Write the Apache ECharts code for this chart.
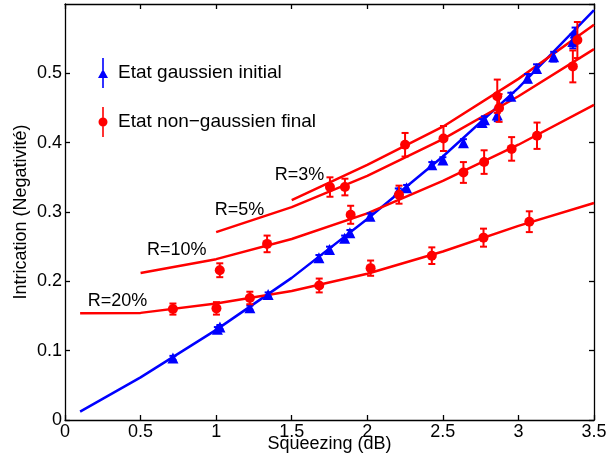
<!DOCTYPE html>
<html>
<head>
<meta charset="utf-8">
<script src="https://cdn.jsdelivr.net/npm/echarts@6/dist/echarts.min.js"></script>
<style>
html,body{margin:0;padding:0;background:#fff;}
#chart{width:608px;height:465px;}
</style>
</head>
<body>
<div id="chart"></div>
<script>
// ---- data ----
const xTicks = [0, 0.5, 1, 1.5, 2, 2.5, 3, 3.5];
const yTicks = [0, 0.1, 0.2, 0.3, 0.4, 0.5];

// Gaussian initial state (blue triangles)
const blueX   = [0.714, 1.008, 1.025, 1.223, 1.344, 1.680, 1.750, 1.850, 1.885, 2.018, 2.205, 2.260, 2.427, 2.500, 2.636, 2.760, 2.775, 2.860, 2.950, 3.060, 3.120, 3.233, 3.360, 3.375];
const blueY   = [0.0895, 0.131, 0.134, 0.162, 0.181, 0.234, 0.246, 0.262, 0.270, 0.294, 0.330, 0.335, 0.368, 0.375, 0.400, 0.429, 0.433, 0.440, 0.467, 0.493, 0.507, 0.524, 0.546, 0.558];
const blueErr = [0.003, 0.003, 0.003, 0.003, 0.003, 0.004, 0.004, 0.004, 0.004, 0.004, 0.004, 0.004, 0.004, 0.004, 0.005, 0.005, 0.005, 0.009, 0.005, 0.006, 0.006, 0.007, 0.010, 0.008];

// Non-gaussian final state (red circles)
const redX   = [0.714, 1.002, 1.024, 1.223, 1.337, 1.682, 1.753, 1.852, 1.890, 2.022, 2.210, 2.250, 2.427, 2.504, 2.636, 2.773, 2.769, 2.860, 2.872, 2.955, 3.072, 3.123, 3.360, 3.390];
const redY   = [0.160, 0.161, 0.216, 0.176, 0.254, 0.194, 0.336, 0.336, 0.296, 0.219, 0.325, 0.397, 0.237, 0.406, 0.357, 0.372, 0.263, 0.467, 0.450, 0.391, 0.286, 0.410, 0.510, 0.548];
const redErr = [0.008, 0.009, 0.010, 0.009, 0.012, 0.010, 0.014, 0.012, 0.013, 0.011, 0.013, 0.017, 0.012, 0.018, 0.015, 0.017, 0.013, 0.024, 0.020, 0.017, 0.015, 0.019, 0.023, 0.026];

// Model curves
const gaussX = [0.1, 0.5, 1.0, 1.5, 2.0, 2.5, 3.0, 3.5];
const gaussY = [0.012, 0.0615, 0.130, 0.205, 0.290, 0.380, 0.479, 0.591];
const r20X = [0.1, 0.5, 1.0, 1.5, 2.0, 2.5, 3.0, 3.5];
const r20Y = [0.154, 0.1545, 0.168, 0.186, 0.211, 0.243, 0.280, 0.313];
const r10X = [0.5, 1.0, 1.5, 2.0, 2.5, 3.0, 3.5];
const r10Y = [0.212, 0.232, 0.261, 0.298, 0.345, 0.397, 0.4545];
const r5X = [1.0, 1.5, 2.0, 2.5, 3.0, 3.5];
const r5Y = [0.271, 0.307, 0.352, 0.405, 0.467, 0.535];
const r3X = [1.5, 2.0, 2.5, 3.0, 3.5];
const r3Y = [0.317, 0.368, 0.423, 0.492, 0.570];

// Curve annotations
const annoText = ['R=3%', 'R=5%', 'R=10%', 'R=20%'];
const annoX = [1.388, 0.991, 0.542, 0.150];
const annoY = [0.3536, 0.3035, 0.2450, 0.1720];

const seriesNames = ['Etat gaussien initial', 'Etat non\u2212gaussien final'];

// ---- build ----
const FONT = "'Liberation Sans', Arial, Helvetica, sans-serif";
const BLUE = '#0000ff', RED = '#ff0000';
const zip = (a, b, c) => a.map((v, i) => c ? [v, b[i], c[i]] : [v, b[i]]);

function errRender(color) {
  return function (params, api) {
    const x = api.value(0), y = api.value(1), e = api.value(2);
    const t = api.coord([x, y + e]);
    const b = api.coord([x, y - e]);
    const w = 3.5;
    const st = { stroke: color, lineWidth: 2 };
    return {
      type: 'group',
      children: [
        { type: 'line', shape: { x1: t[0], y1: t[1], x2: b[0], y2: b[1] }, style: st },
        { type: 'line', shape: { x1: t[0] - w, y1: t[1], x2: t[0] + w, y2: t[1] }, style: st },
        { type: 'line', shape: { x1: b[0] - w, y1: b[1], x2: b[0] + w, y2: b[1] }, style: st }
      ]
    };
  };
}

function curve(xs, ys, color) {
  return {
    type: 'line', data: zip(xs, ys), symbol: 'none', silent: true,
    lineStyle: { color: color, width: 2.5 }, z: 2
  };
}

const axisLine = { show: true, onZero: false, lineStyle: { color: '#000', width: 1.3 } };
const axisTick = { show: true, inside: true, length: 5, lineStyle: { color: '#000', width: 1.3 } };

const blueIcon = 'path://M4.2,0h1.6v12h-1.6z M0,20L5,11L10,20z M4.2,19h1.6v11h-1.6z';
const redIcon = 'path://M4.2,0h1.6v30h-1.6z M0.5,15A4.5,4.5 0 1,1 9.5,15A4.5,4.5 0 1,1 0.5,15z';

const option = {
  animation: false,
  backgroundColor: '#fff',
  textStyle: { fontFamily: FONT },
  grid: { left: 65, right: 14, top: 4, bottom: 45, containLabel: false, outerBoundsMode: 'none' },
  legend: {
    orient: 'vertical', left: 98, top: 58, padding: 0, itemWidth: 10, itemHeight: 30, itemGap: 19,
    textStyle: { fontSize: 19, color: '#000', fontFamily: FONT, padding: [0, 0, 0, 5] },
    data: [
      { name: seriesNames[0], icon: blueIcon, itemStyle: { color: BLUE, opacity: 1 } },
      { name: seriesNames[1], icon: redIcon, itemStyle: { color: RED, opacity: 1 } }
    ],
    selectedMode: false
  },
  xAxis: [
    {
      type: 'value', min: xTicks[0], max: xTicks[xTicks.length - 1], interval: 0.5, position: 'bottom',
      axisLine: axisLine, axisTick: axisTick, splitLine: { show: false },
      axisLabel: { color: '#000', fontSize: 18, margin: 3, fontFamily: FONT },
      name: 'Squeezing (dB)', nameLocation: 'middle', nameGap: 15, nameMoveOverlap: false,
      nameTextStyle: { color: '#000', fontSize: 18, fontFamily: FONT, verticalAlign: 'top' }
    },
    {
      type: 'value', min: xTicks[0], max: xTicks[xTicks.length - 1], interval: 0.5, position: 'top',
      axisLine: axisLine, axisTick: axisTick, splitLine: { show: false }, axisLabel: { show: false }
    }
  ],
  yAxis: [
    {
      type: 'value', min: 0, max: 0.6, interval: 0.1, position: 'left',
      axisLine: axisLine, axisTick: axisTick, splitLine: { show: false },
      axisLabel: { color: '#000', fontSize: 18, margin: 3, fontFamily: FONT, showMaxLabel: false,
        formatter: v => (yTicks.some(t => Math.abs(t - v) < 1e-9) ? String(Math.round(v * 10) / 10) : '') },
      name: 'Intrication (Negativit\u00e9)', nameLocation: 'middle', nameGap: 35, nameMoveOverlap: false,
      nameTextStyle: { color: '#000', fontSize: 18, fontFamily: FONT }
    },
    {
      type: 'value', min: 0, max: 0.6, interval: 0.1, position: 'right',
      axisLine: axisLine, axisTick: axisTick, splitLine: { show: false }, axisLabel: { show: false }
    }
  ],
  series: [
    curve(gaussX, gaussY, BLUE),
    curve(r20X, r20Y, RED),
    curve(r10X, r10Y, RED),
    curve(r5X, r5Y, RED),
    curve(r3X, r3Y, RED),
    {
      type: 'custom', renderItem: errRender(BLUE), data: zip(blueX, blueY, blueErr),
      encode: { x: 0, y: 1 }, z: 3, silent: true
    },
    {
      name: seriesNames[0], type: 'scatter', data: zip(blueX, blueY), symbol: 'triangle', symbolSize: 11,
      itemStyle: { color: BLUE, opacity: 1 }, z: 4
    },
    {
      type: 'custom', renderItem: errRender(RED), data: zip(redX, redY, redErr),
      encode: { x: 0, y: 1 }, z: 5, silent: true
    },
    {
      name: seriesNames[1], type: 'scatter', data: zip(redX, redY), symbol: 'circle', symbolSize: 10,
      itemStyle: { color: RED, opacity: 1 }, z: 6
    },
    {
      type: 'scatter', symbolSize: 0, silent: true, z: 7, itemStyle: { opacity: 1 },
      data: annoX.map((x, i) => ({ value: [x, annoY[i]], label: { formatter: annoText[i] } })),
      label: { show: true, position: 'right', distance: 0, color: '#000', fontSize: 18, fontFamily: FONT, align: 'left', verticalAlign: 'middle' }
    }
  ]
};

const chart = echarts.init(document.getElementById('chart'), null, { renderer: 'canvas' });
chart.setOption(option);
</script>
</body>
</html>
